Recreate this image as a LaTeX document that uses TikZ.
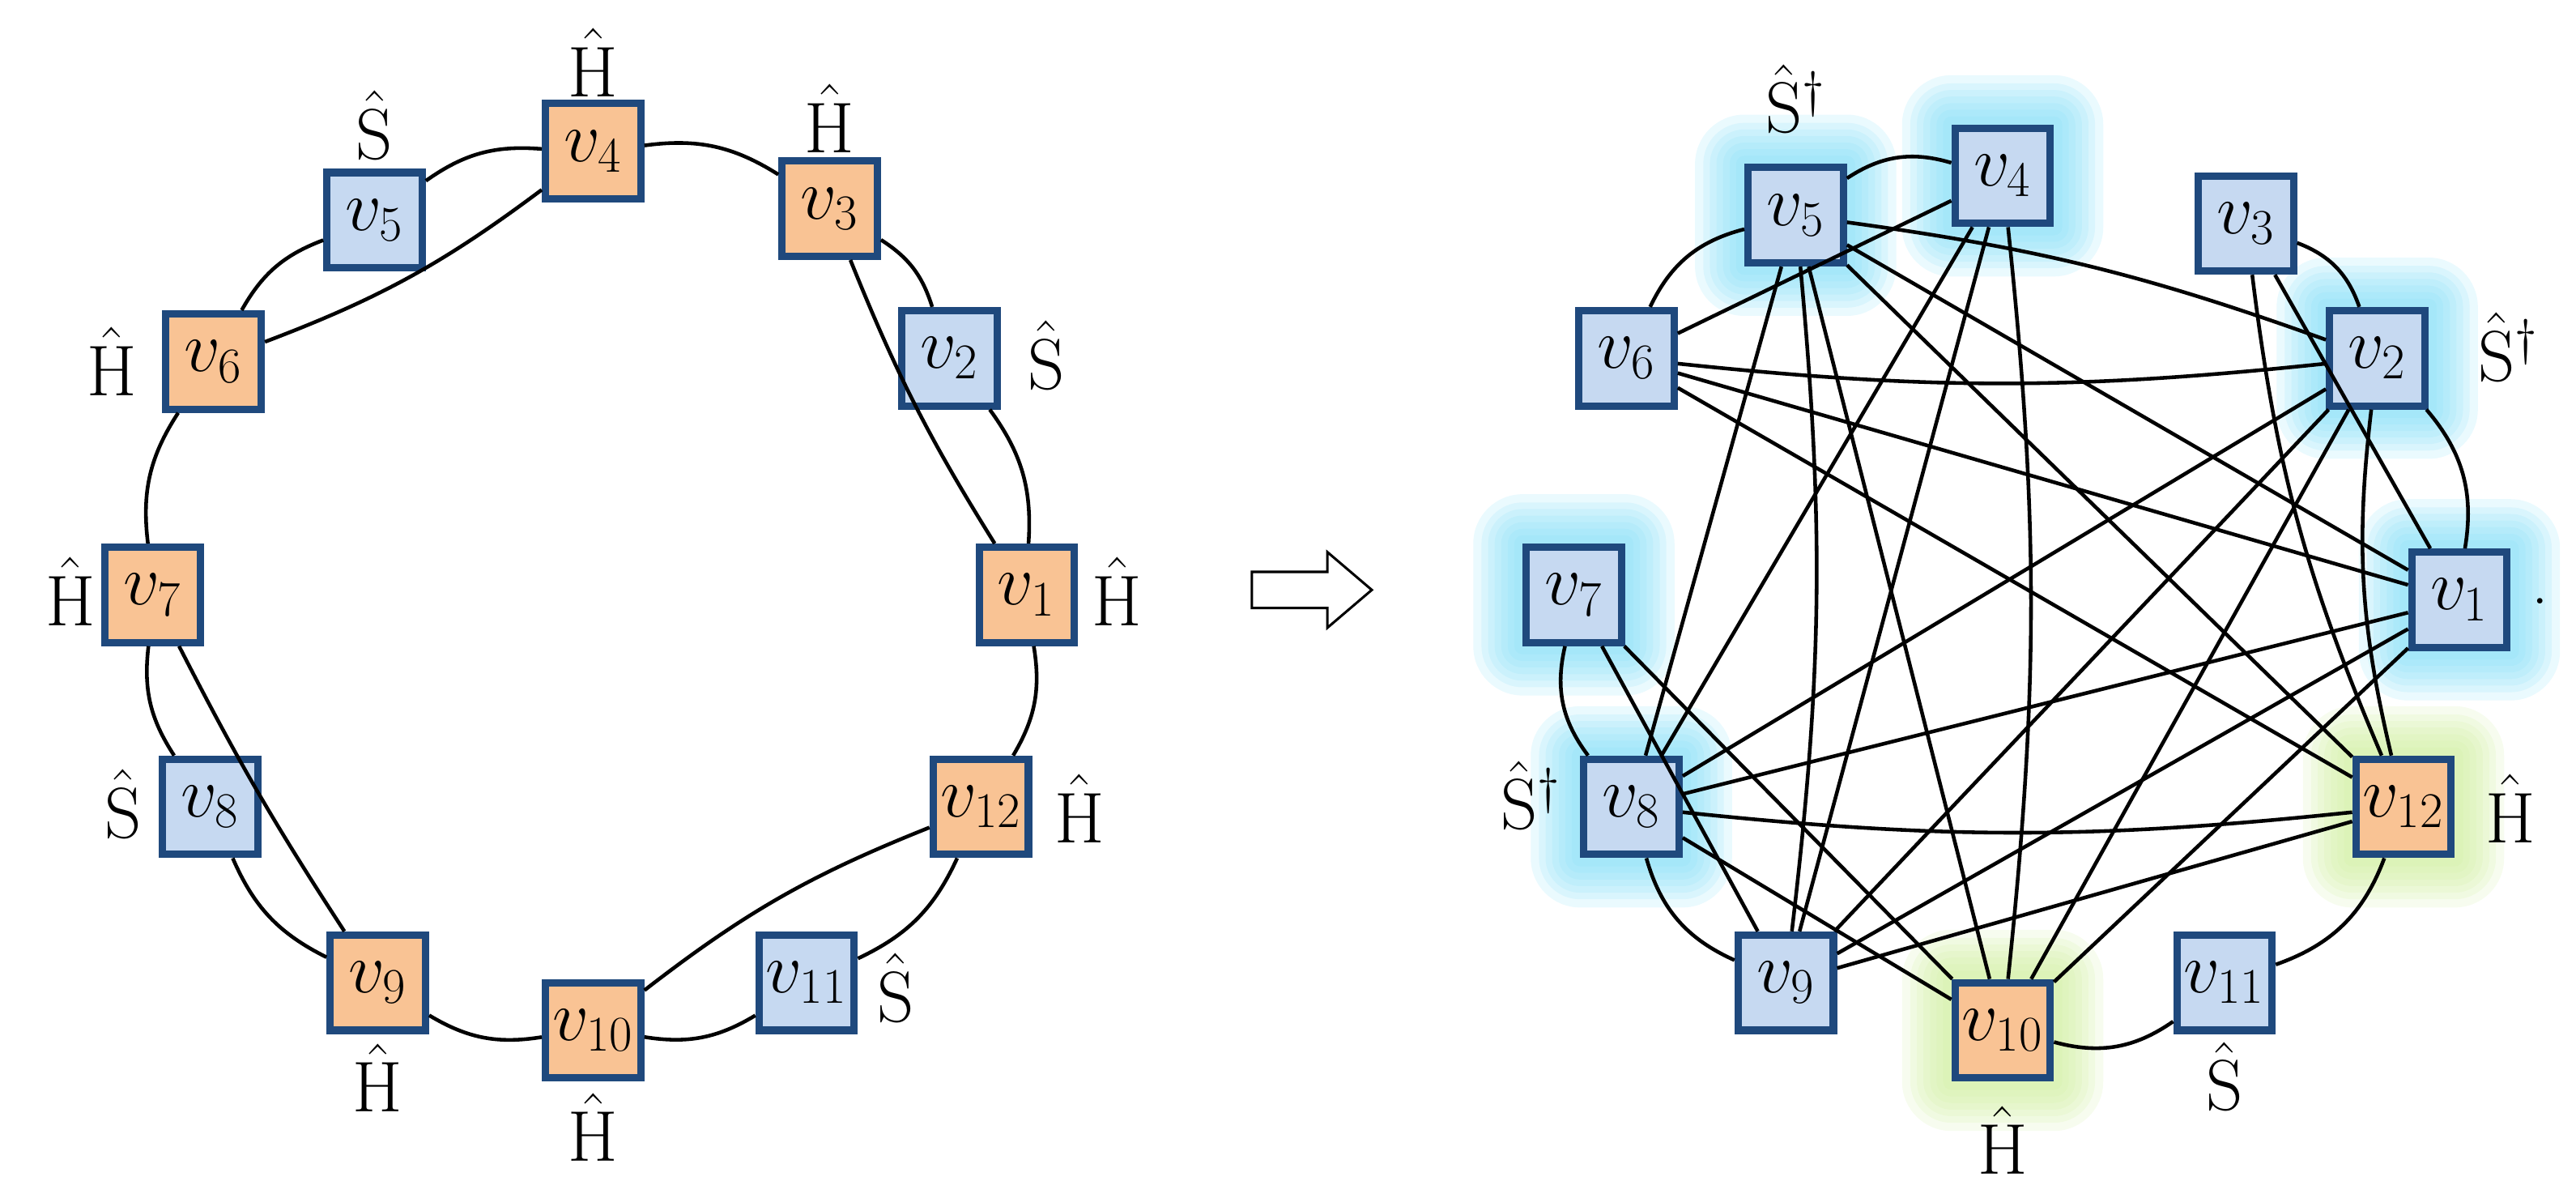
\documentclass[tikz,border=0pt]{standalone}
\usetikzlibrary{backgrounds}
\definecolor{bfill}{HTML}{C6D9F1}
\definecolor{ofill}{HTML}{F9C394}
\definecolor{bdraw}{HTML}{1F497D}
\definecolor{gblue}{HTML}{7FDDF7}
\definecolor{ggreen}{HTML}{CDEE9A}
\begin{document}
\begin{tikzpicture}[x=0.02cm,y=-0.02cm,
  vb/.style={draw=bdraw,line width=0.09cm,fill=bfill,minimum size=1.16cm,inner sep=0pt,font=\fontsize{24}{28}\selectfont},
  vo/.style={vb,fill=ofill},
  lab/.style={font=\fontsize{23}{26}\selectfont,inner sep=0pt},
  ed/.style={line width=0.045cm,black},
]
\useasboundingbox (0,0) rectangle (1568,729);
% ---------- left graph ----------
\node[vo] (a1) at (625,362) {$v_1$};
\node[vb] (a2) at (578,218) {$v_2$};
\node[vo] (a3) at (505,127) {$v_3$};
\node[vo] (a4) at (361,92) {$v_4$};
\node[vb] (a5) at (228,134) {$v_5$};
\node[vo] (a6) at (130,220) {$v_6$};
\node[vo] (a7) at (93,362) {$v_7$};
\node[vb] (a8) at (128,491) {$v_8$};
\node[vo] (a9) at (230,598) {$v_9$};
\node[vo] (a10) at (361,627) {$v_{10}$};
\node[vb] (a11) at (491,598) {$v_{11}$};
\node[vo] (a12) at (597,491) {$v_{12}$};
\node[lab] (la1) at (680,360) {$\hat{\mathrm{H}}$};
\node[lab] (la2) at (637,216) {$\hat{\mathrm{S}}$};
\node[lab] (la3) at (505,72) {$\hat{\mathrm{H}}$};
\node[lab] (la4) at (361,38) {$\hat{\mathrm{H}}$};
\node[lab] (la5) at (228,76) {$\hat{\mathrm{S}}$};
\node[lab] (la6) at (68,220) {$\hat{\mathrm{H}}$};
\node[lab] (la7) at (43,360) {$\hat{\mathrm{H}}$};
\node[lab] (la8) at (75,489) {$\hat{\mathrm{S}}$};
\node[lab] (la9) at (230,656) {$\hat{\mathrm{H}}$};
\node[lab] (la10) at (361,686) {$\hat{\mathrm{H}}$};
\node[lab] (la11) at (545,601) {$\hat{\mathrm{S}}$};
\node[lab] (la12) at (657,492) {$\hat{\mathrm{H}}$};
\foreach \i/\j in {1/2,2/3,3/4,4/5,5/6,6/7,7/8,8/9,9/10,10/11,11/12,12/1}
  \draw[ed] (a\i) to[bend right=20] (a\j);
\draw[ed] (a4) to[bend left=8] (a6);
\draw[ed] (a3) to[bend right=5] (a1);
\draw[ed] (a7) to[bend right=3] (a9);
\draw[ed] (a12) to[bend right=8] (a10);
% ---------- arrow ----------
\draw[line width=0.03cm,fill=white] (762,348) -- (808,348) -- (808,336) -- (835,359) -- (808,382) -- (808,370) -- (762,370) -- cycle;
\node[lab] (dot) at (1546,366) {.};
% ---------- right graph ----------
\node[vb] (b1) at (1497,365) {$v_1$};
\node[vb] (b2) at (1447,218) {$v_2$};
\node[vb] (b3) at (1367,136) {$v_3$};
\node[vb] (b4) at (1219,107) {$v_4$};
\node[vb] (b5) at (1093,131) {$v_5$};
\node[vb] (b6) at (990,218) {$v_6$};
\node[vb] (b7) at (958,362) {$v_7$};
\node[vb] (b8) at (993,491) {$v_8$};
\node[vb] (b9) at (1087,598) {$v_9$};
\node[vo] (b10) at (1219,627) {$v_{10}$};
\node[vb] (b11) at (1354,598) {$v_{11}$};
\node[vo] (b12) at (1463,491) {$v_{12}$};
\node[lab] (lb5) at (1093,60) {$\hat{\mathrm{S}}^\dagger$};
\node[lab] (lb2) at (1527,211) {$\hat{\mathrm{S}}^\dagger$};
\node[lab] (lb8) at (932,484) {$\hat{\mathrm{S}}^\dagger$};
\node[lab] (lb12) at (1528,492) {$\hat{\mathrm{H}}$};
\node[lab] (lb11) at (1354,655) {$\hat{\mathrm{S}}$};
\node[lab] (lb10) at (1219,694) {$\hat{\mathrm{H}}$};
\begin{pgfonlayer}{background}
\foreach \n in {b1,b2,b4,b5,b7,b8}
  \foreach \s in {0.6,0.5,0.42,0.34,0.26,0.18,0.1}
    \fill[gblue,opacity=0.16,rounded corners=\s cm] ([shift={(-\s cm,\s cm)}]\n.north west) rectangle ([shift={(\s cm,-\s cm)}]\n.south east);
\foreach \n in {b10,b12}
  \foreach \s in {0.6,0.5,0.42,0.34,0.26,0.18,0.1}
    \fill[ggreen,opacity=0.16,rounded corners=\s cm] ([shift={(-\s cm,\s cm)}]\n.north west) rectangle ([shift={(\s cm,-\s cm)}]\n.south east);
\end{pgfonlayer}
\foreach \i/\j in {1/2,2/3,4/5,5/6,7/8,8/9,10/11,11/12}
  \draw[ed] (b\i) to[bend right=25] (b\j);
\foreach \i/\j in {4/6,5/1,5/12,5/8,5/10,4/8,4/9,6/1,6/12,3/1,2/8,2/9,2/10,1/8,1/9,1/10,7/9,7/10,8/10,9/12}
  \draw[ed] (b\i) -- (b\j);
\draw[ed] (b5) to[bend left=6] (b2);
\draw[ed] (b6) to[bend right=6] (b2);
\draw[ed] (b5) to[bend left=6] (b9);
\draw[ed] (b4) to[bend left=6] (b10);
\draw[ed] (b3) to[bend right=8] (b12);
\draw[ed] (b2) to[bend right=10] (b12);
\draw[ed] (b8) to[bend right=6] (b12);
\end{tikzpicture}
\end{document}
